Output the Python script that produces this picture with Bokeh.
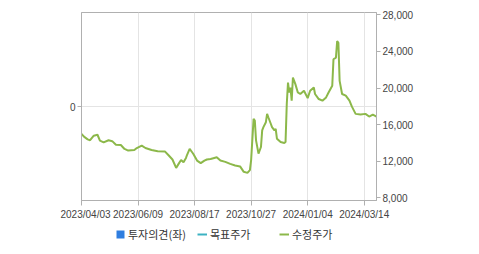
from bokeh.plotting import figure
from bokeh.models import (Range1d, LinearAxis, FixedTicker, NumeralTickFormatter,
                          Legend, LegendItem, ColumnDataSource, Spacer)
from bokeh.layouts import row, column
from bokeh.embed import file_html
from bokeh.resources import INLINE

nan = float("nan")

# trading-day index since 2023/04/03 and adjusted close (수정주가)
day = [0, 2, 5, 7, 10, 13, 15, 18, 22, 25, 28, 32, 35, 38, 43, 45, 49, 52, 57, 62,
       68, 71, 74, 77, 79, 81, 83, 85, 86, 88, 90, 91, 94, 97, 100, 102, 105, 108, 110, 113,
       117, 121, 125, 129, 132, 135, 137, 138, 140, 141, 142, 144, 146, 147, 148, 150, 151, 152, 154, 155,
       157, 158, 159, 162, 165, 166, 167, 168, 169, 170, 171, 172, 173, 174, 176, 178, 181, 184, 186, 189,
       190, 193, 196, 199, 201, 204, 205, 207, 208, 209, 210, 212, 215, 218, 220, 223, 227, 231, 234, 237,
       240]
price = [15000, 14700, 14400, 14300, 14800, 14900, 14250, 14070, 14300, 14200, 13800, 13780, 13350, 13170, 13230, 13450, 13710, 13450, 13230, 13100,
         13060, 12630, 12200, 11280, 11720, 12150, 11900, 12370, 12740, 13350, 12990, 12800, 12080, 11800, 12080, 12200, 12260, 12370, 12440, 12080,
         11940, 11720, 11540, 11440, 10850, 10740, 11030, 12120, 16640, 16450, 14290, 12840, 13560, 15370, 15730, 16270, 17180, 16810, 16100, 15730,
         15370, 15550, 14470, 14100, 13990, 14100, 18260, 20600, 19520, 20060, 18620, 21150, 20790, 20430, 19520, 19350, 19710, 18900, 19700, 20060,
         19350, 18800, 18620, 18980, 19520, 20250, 23140, 23320, 25130, 24940, 20790, 19350, 19170, 18620, 17970, 17180, 17100, 17180, 16890, 17100,
         16890]

# 투자의견 and 목표주가 have no values in this period
opinion_day = [nan]
opinion_val = [nan]
target_day = [nan]
target_val = [nan]

tick_days = [0, 46, 92, 138, 184, 230]
tick_labels = ["2023/04/03", "2023/06/09", "2023/08/17", "2023/10/27", "2024/01/04", "2024/03/14"]
price_ticks = [8000, 12000, 16000, 20000, 24000, 28000]

num_font = "Liberation Sans"
kr_font = "Noto Sans CJK KR"
GREEN = "#8cb84a"
BLUE = "#2f7ee0"
TEAL = "#3cb2c2"

p = figure(width=419, height=224, output_backend="svg", toolbar_location=None,
           x_range=Range1d(0, 240), y_range=Range1d(-1, 1),
           min_border_left=21, min_border_right=103, min_border_top=12, min_border_bottom=24)
p.extra_y_ranges = {"price": Range1d(7720, 28250)}

p.outline_line_color = "#b0b0b0"

# x axis
xa = p.xaxis[0]
xa.ticker = FixedTicker(ticks=tick_days)
xa.major_label_overrides = {d: l for d, l in zip(tick_days, tick_labels)}
xa.axis_line_color = "#b0b0b0"
xa.major_tick_line_color = "#b0b0b0"
xa.major_tick_out = 5
xa.major_tick_in = 0
xa.minor_tick_line_color = None
xa.major_label_text_font = num_font
xa.major_label_text_font_size = "10px"
xa.major_label_text_color = "#444444"
xa.major_label_standoff = 3

# left axis (투자의견)
ya = p.yaxis[0]
ya.ticker = FixedTicker(ticks=[0])
ya.axis_line_color = "#b0b0b0"
ya.major_tick_line_color = "#b0b0b0"
ya.major_tick_out = 4
ya.major_tick_in = 0
ya.minor_tick_line_color = None
ya.major_label_text_font = num_font
ya.major_label_text_font_size = "10px"
ya.major_label_text_color = "#444444"
ya.major_label_standoff = 2

# right axis (price)
ra = LinearAxis(y_range_name="price", ticker=FixedTicker(ticks=price_ticks),
                formatter=NumeralTickFormatter(format="0,0"))
ra.axis_line_color = "#b0b0b0"
ra.major_tick_line_color = "#b0b0b0"
ra.major_tick_out = 4
ra.major_tick_in = 0
ra.minor_tick_line_color = None
ra.major_label_text_font = num_font
ra.major_label_text_font_size = "10px"
ra.major_label_text_color = "#444444"
ra.major_label_standoff = 2
p.add_layout(ra, "right")

p.xgrid.grid_line_color = "#e4e4e4"
p.ygrid.grid_line_color = "#e4e4e4"

src = ColumnDataSource(dict(day=day, price=price))
p.line("day", "price", source=src, y_range_name="price", line_color=GREEN, line_width=2)

# legend strip below the chart
pl = figure(width=479, height=30, output_backend="svg", toolbar_location=None,
            x_range=Range1d(0, 1), y_range=Range1d(0, 1),
            x_axis_type=None, y_axis_type=None,
            min_border_left=0, min_border_right=0, min_border_top=0, min_border_bottom=0)
pl.outline_line_color = None
pl.xgrid.visible = False
pl.ygrid.visible = False

op_src = ColumnDataSource(dict(x=opinion_day, top=opinion_val))
r_op = pl.vbar(x="x", top="top", bottom=0, width=1, source=op_src,
               fill_color=BLUE, line_color=None)
tp_src = ColumnDataSource(dict(x=target_day, y=target_val))
r_tp = pl.line("x", "y", source=tp_src, line_color=TEAL, line_width=2)
pr_src = ColumnDataSource(dict(x=[nan], y=[nan]))
r_pr = pl.line("x", "y", source=pr_src, line_color=GREEN, line_width=2)

legend = Legend(items=[LegendItem(label="투자의견(좌)", renderers=[r_op]),
                       LegendItem(label="목표주가", renderers=[r_tp]),
                       LegendItem(label="수정주가", renderers=[r_pr])],
                orientation="horizontal", location=(115, 12),
                glyph_width=10, glyph_height=10, label_standoff=3, spacing=9,
                label_width=60, label_height=14, padding=0, margin=0,
                border_line_alpha=0, background_fill_alpha=0,
                label_text_font=kr_font, label_text_font_size="11px",
                label_text_color="#333333")
pl.add_layout(legend, "center")

layout = column(row(Spacer(width=60, height=224), p), pl)
open("out.html", "w").write(file_html(layout, INLINE))
